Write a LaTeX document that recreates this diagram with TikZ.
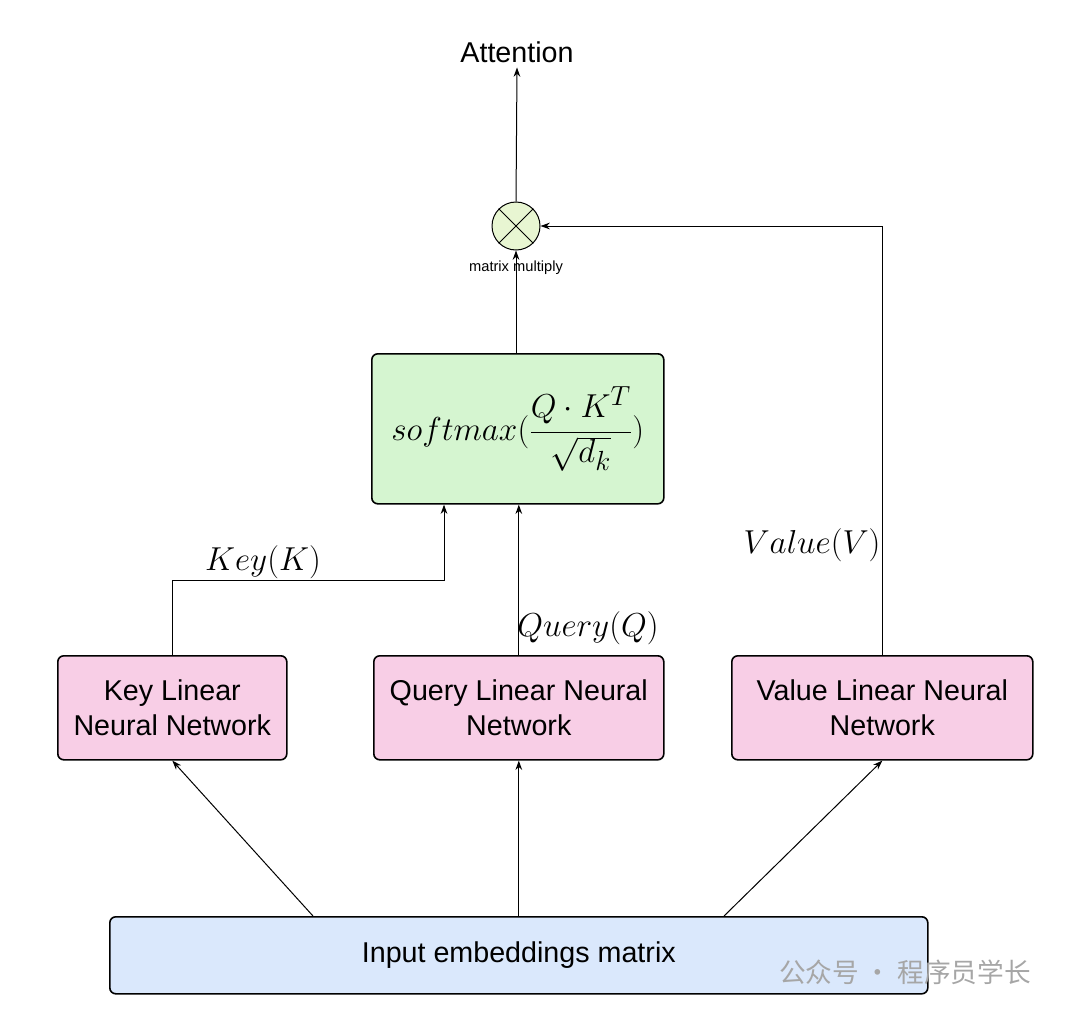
\documentclass[tikz,border=0pt]{standalone}
\usepackage[no-math]{fontspec}
\setmainfont{Liberation Sans}
\newfontfamily\cjk{Noto Sans CJK SC}
\usetikzlibrary{arrows.meta}
\definecolor{netpink}{RGB}{248,206,230}
\definecolor{softgreen}{RGB}{213,245,208}
\definecolor{mulgreen}{RGB}{232,246,210}
\definecolor{inblue}{RGB}{218,232,252}
\tikzset{every picture/.style={line width=0.75pt}}
\tikzset{
  net/.style={draw, rounded corners=4.5pt, line width=1.2pt, fill=netpink, align=center, font=\fontsize{21.5}{26}\selectfont, minimum height=78pt, anchor=north west, inner sep=2pt},
  arr/.style={-{Stealth[length=7pt,width=5pt]}},
  lbl/.style={font=\fontsize{25}{28}\selectfont}
}
\begin{document}
\begin{tikzpicture}[x=0.75pt,y=0.75pt,yscale=-1,xscale=1]
    \useasboundingbox (0,0) rectangle (1080,1017);

    %Output
    \node (att) at (517,52) {\fontsize{21.5}{26}\selectfont Attention};
    %Matrix multiply
    \node (mul) [draw, circle, fill=mulgreen, minimum size=36pt, inner sep=0pt] at (516,226) {};
    \draw (mul.north east) -- (mul.south west) (mul.north west) -- (mul.south east);
    \node (mullbl) at (516,268) {\fontsize{11}{13}\selectfont matrix multiply};
    %Softmax
    \node (soft) [draw, rounded corners=4.5pt, line width=1.2pt, fill=softgreen, anchor=north west, minimum width=219pt, minimum height=112.5pt, inner sep=1pt] at (371,353) {\fontsize{27.5}{32}\selectfont $softmax(\displaystyle\frac{Q\cdot K^T}{\sqrt{d_k}})$};
    %Linear networks
    \node (key) [net, minimum width=171.75pt] at (57,655) {Key Linear\\Neural Network};
    \node (qry) [net, minimum width=217.5pt] at (373,655) {Query Linear Neural\\Network};
    \node (val) [net, minimum width=225.75pt] at (731,655) {Value Linear Neural\\Network};
    %Input
    \node (inp) [draw, rounded corners=4.5pt, line width=1.2pt, fill=inblue, anchor=north west, minimum width=613.5pt, minimum height=57.75pt, font=\fontsize{21.5}{26}\selectfont] at (109,916) {Input embeddings matrix};
    %Watermark
    \node (wm) [text=gray!70] at (905,972) {\fontsize{20}{24}\cjk 公众号 · 程序员学长};

    %Connectors
    \draw [arr] (313,916) -- (key.south);
    \draw [arr] (inp.north -| qry.south) -- (qry.south);
    \draw [arr] (724,916) -- (val.south);
    \draw [arr] (key.north) |- (444,580) -- (444,580 |- soft.south);
    \draw [arr] (qry.north) -- (qry.north |- soft.south);
    \draw [arr] (val.north) |- (mul.east);
    \draw [arr] (soft.north -| mul.south) -- (mul.south);
    \draw [arr] (mul.north) -- (att.south);

    %Labels
    \node (klbl) [lbl] at (263,562) {$Key(K)$};
    \node (qlbl) [lbl] at (588,628) {$Query(Q)$};
    \node (vlbl) [lbl] at (812,545) {$Value(V)$};
\end{tikzpicture}
\end{document}
